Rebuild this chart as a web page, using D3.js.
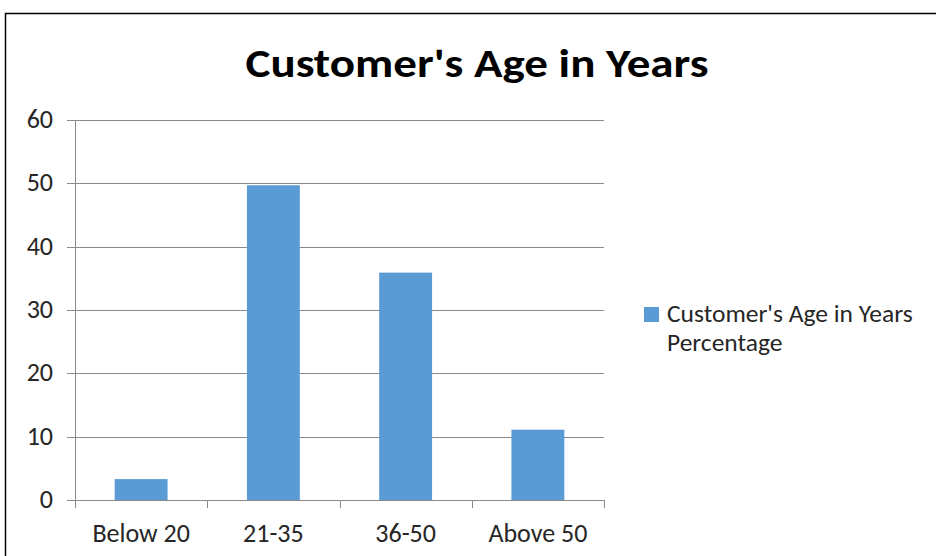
<!DOCTYPE html>
<html><head><meta charset="utf-8">
<script src="https://cdn.jsdelivr.net/npm/d3@7"></script>
<style>body{margin:0;background:#fff}svg{display:block}</style>
</head><body><svg id="c" width="936" height="556"></svg>
<script>
const categories = ["Below 20", "21-35", "36-50", "Above 50"];
const values = [3.3, 49.7, 35.9, 11.1];
const yTicks = [0, 10, 20, 30, 40, 50, 60];
const title = "Customer's Age in Years";
const legendLines = ["Customer's Age in Years", "Percentage"];

(function () {
const svg = d3.select("#c");
const font = "Carlito, Calibri, 'Open Sans', 'Liberation Sans', sans-serif";
svg.append("rect").attr("x",0).attr("y",0).attr("width",936).attr("height",556).attr("fill","#fff");
svg.append("path").attr("d","M5.5,570 L5.5,13.5 L950,13.5").attr("fill","none").attr("stroke","#000").attr("stroke-width",1.5);

const pLeft = 75, pRight = 604, pTop = 120, pBottom = 500;
const x = d3.scaleBand().domain(categories).range([pLeft, pRight]).paddingInner(0).paddingOuter(0);
const y = d3.scaleLinear().domain([0, 60]).range([pBottom, pTop]);

svg.append("g").selectAll("line").data(yTicks).join("line")
  .attr("x1", pLeft - 8).attr("x2", pRight)
  .attr("y1", d => Math.round(y(d)) + 0.5).attr("y2", d => Math.round(y(d)) + 0.5)
  .attr("stroke", "#898989").attr("stroke-width", 1);

svg.append("line").attr("x1", pLeft + 0.5).attr("x2", pLeft + 0.5).attr("y1", pTop).attr("y2", pBottom)
  .attr("stroke", "#898989");
const xt = categories.map(c => x(c)).concat([pRight]);
svg.append("g").selectAll("line").data(xt).join("line")
  .attr("x1", d => Math.round(d) + 0.5).attr("x2", d => Math.round(d) + 0.5)
  .attr("y1", pBottom).attr("y2", pBottom + 8).attr("stroke", "#898989");

const bw = x.bandwidth() / 2.5;
svg.append("g").selectAll("rect").data(values).join("rect")
  .attr("x", (d, i) => x(categories[i]) + x.bandwidth() / 2 - bw / 2)
  .attr("width", bw)
  .attr("y", d => y(d))
  .attr("height", d => pBottom - y(d))
  .attr("fill", "#5B9BD5");

svg.append("g").selectAll("text").data(yTicks).join("text")
  .attr("x", 53).attr("y", d => y(d) + 8)
  .attr("text-anchor", "end").attr("font-family", font).attr("font-size", 26)
  .attr("fill", "#262626").text(d => d);

svg.append("g").selectAll("text").data(categories).join("text")
  .attr("x", d => x(d) + x.bandwidth() / 2).attr("y", 542)
  .attr("text-anchor", "middle").attr("font-family", font).attr("font-size", 26)
  .attr("fill", "#262626").text(d => d);

svg.append("text").attr("x", 477).attr("y", 77).attr("text-anchor", "middle")
  .attr("font-family", font).attr("font-weight", "bold").attr("font-size", 41)
  .attr("textLength", 463).attr("lengthAdjust", "spacingAndGlyphs")
  .attr("fill", "#000").text(title);

svg.append("rect").attr("x", 644).attr("y", 307).attr("width", 15).attr("height", 15).attr("fill", "#5B9BD5");
svg.append("g").selectAll("text").data(legendLines).join("text")
  .attr("x", 667).attr("y", (d, i) => 322 + i * 29)
  .attr("font-family", font).attr("font-size", 25.5).attr("fill", "#262626")
  .text(d => d);
})();
</script></body></html>
